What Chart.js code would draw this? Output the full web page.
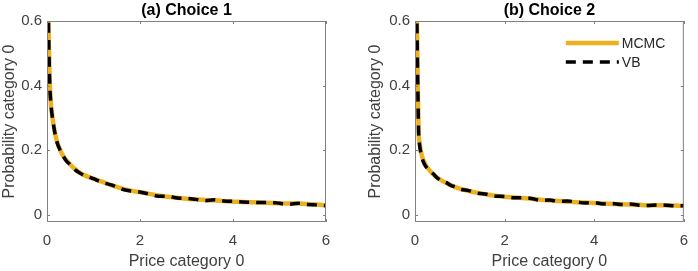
<!DOCTYPE html>
<html>
<head>
<meta charset="utf-8">
<script src="https://cdn.jsdelivr.net/npm/chart.js@4/dist/chart.umd.min.js"></script>
<style>
  body { margin: 0; background: #fff; }
  .wrap { position: relative; width: 698px; height: 271px; }
  .wrap canvas { position: absolute; top: 0; }
</style>
</head>
<body>
<div class="wrap">
  <canvas id="chartA" width="349" height="271" style="left:0"></canvas>
  <canvas id="chartB" width="349" height="271" style="left:349px"></canvas>
</div>
<script>
// values
var prices = [0.02, 0.04, 0.06, 0.08, 0.1, 0.15, 0.2, 0.3, 0.4, 0.5, 0.6, 0.7, 0.8, 0.9, 1.0,
  1.2, 1.4, 1.6, 1.8, 2.0, 2.2, 2.4, 2.6, 2.8, 3.0, 3.2, 3.4, 3.6, 3.8, 4.0,
  4.2, 4.4, 4.6, 4.8, 5.0, 5.2, 5.4, 5.6, 5.8, 6.0];

var mcmcA = [0.70, 0.52, 0.41, 0.35, 0.32, 0.27, 0.235, 0.195, 0.172, 0.156, 0.142, 0.131, 0.123, 0.117, 0.112,
  0.102, 0.091, 0.082, 0.075, 0.070, 0.065, 0.060, 0.056, 0.053, 0.050, 0.048, 0.046, 0.045, 0.043, 0.041,
  0.040, 0.039, 0.038, 0.037, 0.036, 0.035, 0.035, 0.034, 0.032, 0.030];
var vbA = [0.70, 0.52, 0.40, 0.35, 0.32, 0.27, 0.232, 0.195, 0.170, 0.155, 0.140, 0.130, 0.122, 0.118, 0.112,
  0.100, 0.092, 0.080, 0.074, 0.071, 0.064, 0.058, 0.058, 0.052, 0.051, 0.048, 0.044, 0.047, 0.043, 0.042,
  0.040, 0.039, 0.038, 0.039, 0.036, 0.033, 0.036, 0.032, 0.031, 0.028];

var mcmcB = [0.75, 0.62, 0.42, 0.26, 0.225, 0.185, 0.165, 0.142, 0.127, 0.115, 0.106, 0.099, 0.092, 0.086, 0.081,
  0.074, 0.068, 0.063, 0.059, 0.056, 0.054, 0.052, 0.050, 0.047, 0.045, 0.043, 0.041, 0.039, 0.038, 0.037,
  0.035, 0.034, 0.033, 0.032, 0.031, 0.030, 0.030, 0.030, 0.029, 0.028];
var vbB = [0.75, 0.62, 0.42, 0.26, 0.22, 0.18, 0.16, 0.14, 0.128, 0.114, 0.105, 0.100, 0.091, 0.087, 0.080,
  0.075, 0.067, 0.064, 0.058, 0.057, 0.053, 0.053, 0.051, 0.045, 0.046, 0.042, 0.043, 0.040, 0.037, 0.038,
  0.034, 0.035, 0.032, 0.034, 0.030, 0.029, 0.031, 0.030, 0.028, 0.028];

var xTicks = [0, 2, 4, 6];
var yTicks = [0, 0.2, 0.4, 0.6];
var seriesNames = ['MCMC', 'VB'];

var FONT = "'Liberation Sans', Arial, sans-serif";
var ORANGE = '#EDB120';

function pts(xs, ys) {
  return xs.map(function (x, i) { return { x: x, y: ys[i] }; });
}

// box around the axes with MATLAB style inward ticks
var boxPlugin = {
  id: 'box',
  afterDraw: function (chart) {
    var c = chart.ctx, a = chart.chartArea;
    var xs = chart.scales.x, ys = chart.scales.y;
    c.save();
    c.strokeStyle = '#808080';
    c.lineWidth = 1;
    c.strokeRect(a.left + 0.5, a.top + 0.5, a.right - a.left - 1, a.bottom - a.top - 1);
    xTicks.forEach(function (v) {
      var px = Math.round(xs.getPixelForValue(v)) + 0.5;
      c.beginPath();
      c.moveTo(px, a.bottom); c.lineTo(px, a.bottom - 3);
      c.moveTo(px, a.top); c.lineTo(px, a.top + 3);
      c.stroke();
    });
    yTicks.forEach(function (v) {
      var py = Math.round(ys.getPixelForValue(v)) + 0.5;
      c.beginPath();
      c.moveTo(a.left, py); c.lineTo(a.left + 3, py);
      c.moveTo(a.right, py); c.lineTo(a.right - 3, py);
      c.stroke();
    });
    c.restore();
  }
};

// legend inside the plot, top right
var insideLegend = {
  id: 'insideLegend',
  afterDraw: function (chart, args, opts) {
    if (!opts.show) return;
    var c = chart.ctx, a = chart.chartArea;
    c.save();
    c.font = '14px ' + FONT;
    c.textBaseline = 'middle';
    chart.data.datasets.forEach(function (ds, i) {
      var y = a.top + 22 + i * 19;
      c.strokeStyle = ds.borderColor;
      c.lineWidth = ds.borderWidth;
      c.setLineDash(ds.borderDash || []);
      c.beginPath();
      c.moveTo(a.right - 118, y); c.lineTo(a.right - 65, y);
      c.stroke();
      c.setLineDash([]);
      c.fillStyle = '#262626';
      c.fillText(ds.label, a.right - 62, y + 1);
    });
    c.restore();
  }
};

function makeChart(id, title, mcmc, vb, yWidth, padRight, yTitlePad, showLegend) {
  return new Chart(document.getElementById(id), {
    type: 'line',
    data: {
      datasets: [{
        label: seriesNames[0],
        data: pts(prices, mcmc),
        borderColor: ORANGE,
        borderWidth: 4.5,
        pointRadius: 0,
        cubicInterpolationMode: 'monotone',
        order: 2
      }, {
        label: seriesNames[1],
        data: pts(prices, vb),
        borderColor: '#000000',
        borderWidth: 3.5,
        borderDash: [10, 7],
        pointRadius: 0,
        cubicInterpolationMode: 'monotone',
        order: 1
      }]
    },
    options: {
      responsive: false,
      animation: false,
      layout: { padding: { left: 0, right: padRight, top: 0, bottom: 0 } },
      plugins: {
        legend: { display: false },
        tooltip: { enabled: false },
        title: {
          display: true,
          text: title,
          fullSize: false,
          color: '#000',
          font: { family: FONT, size: 16, weight: 'bold' },
          padding: { top: 1, bottom: 0.8 }
        },
        insideLegend: { show: showLegend }
      },
      scales: {
        x: {
          type: 'linear',
          min: 0, max: 6,
          grid: { display: false, drawTicks: false },
          border: { display: false },
          afterBuildTicks: function (s) { s.ticks = xTicks.map(function (v) { return { value: v }; }); },
          afterFit: function (s) { s.height = 49; },
          ticks: { color: '#404040', padding: 10, maxRotation: 0, font: { family: FONT, size: 15 } },
          title: {
            display: true, text: 'Price category 0', color: '#404040',
            padding: { top: 0, bottom: 0 },
            font: { family: FONT, size: 16 }
          }
        },
        y: {
          min: -0.022, max: 0.6,
          grid: { display: false, drawTicks: false },
          border: { display: false },
          afterBuildTicks: function (s) { s.ticks = yTicks.map(function (v) { return { value: v }; }); },
          afterFit: function (s) { s.width = yWidth; },
          ticks: { color: '#404040', padding: 5, font: { family: FONT, size: 15 } },
          title: {
            display: true, text: 'Probability category 0', color: '#404040',
            padding: { top: yTitlePad, bottom: 0 },
            font: { family: FONT, size: 16 }
          }
        }
      }
    },
    plugins: [boxPlugin, insideLegend]
  });
}

makeChart('chartA', '(a) Choice 1', mcmcA, vbA, 47, 23, 0, false);
makeChart('chartB', '(b) Choice 2', mcmcB, vbB, 66, 3, 17, true);
</script>
</body>
</html>
